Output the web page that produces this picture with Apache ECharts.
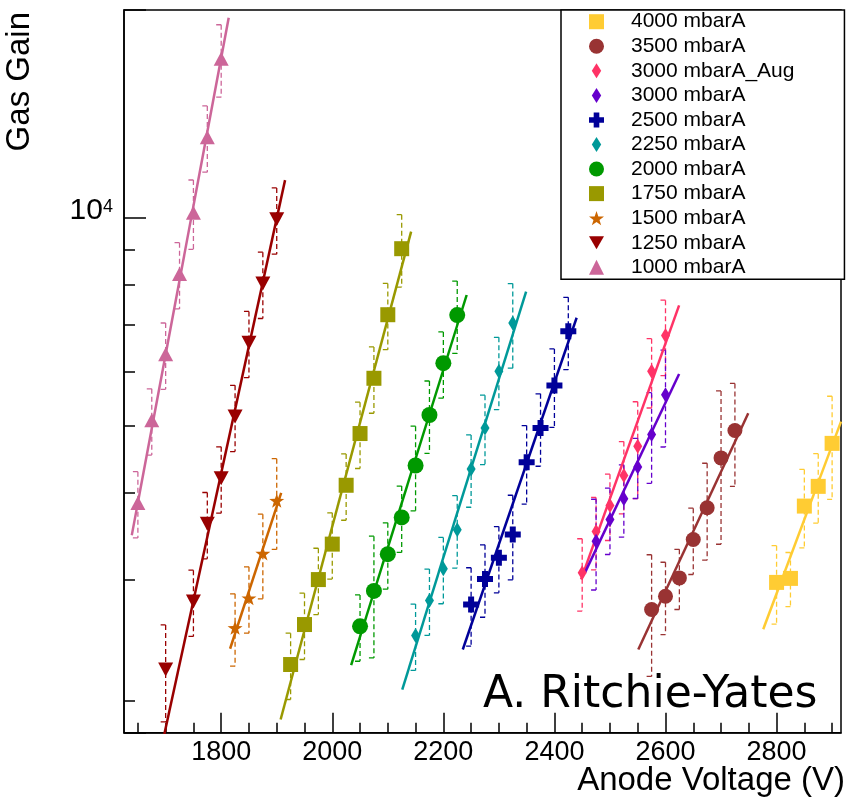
<!DOCTYPE html>
<html><head><meta charset="utf-8">
<script src="https://cdn.jsdelivr.net/npm/echarts@6/dist/echarts.min.js"></script>
<style>html,body{margin:0;padding:0;background:#fff}#c{width:846px;height:802px}</style>
</head><body><div id="c"></div>
<script>
const FONT = '"Liberation Sans", Arial, Helvetica, sans-serif';
const X_MIN = 1625, X_MAX = 2916;
const Y_MIN = 1800, Y_MAX = 20000, Y_MAJOR = 10000;
const X_LABELS = [1800, 2000, 2200, 2400, 2600, 2800];
const X_MINOR_TICKS = [1650,1700,1750,1850,1900,1950,2050,2100,2150,2250,2300,2350,2450,2500,2550,2650,2700,2750,2850,2900];
const Y_MINOR_TICKS = [2000,3000,4000,5000,6000,7000,8000,9000];

const NAMES = ['4000 mbarA','3500 mbarA','3000 mbarA_Aug','3000 mbarA','2500 mbarA','2250 mbarA','2000 mbarA','1750 mbarA','1500 mbarA','1250 mbarA','1000 mbarA'];

// voltage (V), gain, error (%), fit line end points
const V_4000 = [2800,2825,2850,2875,2900];
const G_4000 = [2970,3010,3830,4090,4720];
const E_4000 = [13,9,13,11.5,17];
const FIT_4000 = [[2776,2541],[2916,5074]];

const V_3500 = [2575,2600,2625,2650,2675,2700,2725];
const G_3500 = [2714,2836,3015,3426,3808,4497,4926];
const E_3500 = [20,12,10,11,16,25,17];
const FIT_3500 = [[2551,2375],[2749,5218]];

const V_3000A = [2450,2475,2500,2525,2550,2575,2600];
const G_3000A = [3067,3520,3837,4240,4674,6000,6760];
const E_3000A = [12,12,11,12,16,11.5,12.5];
const FIT_3000A = [[2448,3000],[2624.5,7477]];

const V_3000 = [2475,2500,2525,2550,2575,2600];
const G_3000 = [3407,3662,3924,4364,4860,5551];
const E_3000 = [15,11,12,10,15,16];
const FIT_3000 = [[2455,3068],[2624.5,5948]];

const V_2500 = [2250,2275,2300,2325,2350,2375,2400,2425];
const G_2500 = [2760,3005,3223,3483,4432,4970,5722,6856];
const E_2500 = [13,12,11,14,13,12,13,12];
const FIT_2500 = [[2235,2375],[2440,7173]];

const V_2250 = [2150,2175,2200,2225,2250,2275,2300,2325];
const G_2250 = [2489,2797,3108,3540,4335,4970,6000,7050];
const E_2250 = [11,11,11,12,12,11.5,12,14];
const FIT_2250 = [[2126,2077],[2349,7827]];

const V_2000 = [2050,2075,2100,2125,2150,2175,2200,2225];
const G_2000 = [2566,2887,3263,3688,4384,5188,6165,7238];
const E_2000 = [11,20,11,11,14,12,11,12];
const FIT_2000 = [[2034,2255],[2242,7738]];

const V_1750 = [1925,1950,1975,2000,2025,2050,2075,2100,2125];
const G_1750 = [2259,2581,2998,3374,4105,4877,5863,7246,9029];
const E_1750 = [11,11,11,11,11,11,11,11,12];
const FIT_1750 = [[1907,1881],[2142,9557]];

const V_1500 = [1825,1850,1875,1900];
const G_1500 = [2553,2818,3270,3900];
const E_1500 = [12,11,14,15];
const FIT_1500 = [[1816,2381],[1908,4003]];

const V_1250 = [1700,1750,1775,1800,1825,1850,1875,1900];
const G_1250 = [2222,2787,3610,4203,5160,6600,8040,9960];
const E_1250 = [16,11,11,11,11,11,11,11];
const FIT_1250 = [[1690,1679],[1915,11346]];

const V_1000 = [1650,1675,1700,1725,1750,1775,1800];
const G_1000 = [3870,5100,6350,8300,10180,13090,17000];
const E_1000 = [11,11,11,11,11.5,11,12];
const FIT_1000 = [[1639,3475],[1813.5,19490]];

const GROUPS = [
  [V_4000, G_4000, E_4000, FIT_4000],
  [V_3500, G_3500, E_3500, FIT_3500],
  [V_3000A, G_3000A, E_3000A, FIT_3000A],
  [V_3000, G_3000, E_3000, FIT_3000],
  [V_2500, G_2500, E_2500, FIT_2500],
  [V_2250, G_2250, E_2250, FIT_2250],
  [V_2000, G_2000, E_2000, FIT_2000],
  [V_1750, G_1750, E_1750, FIT_1750],
  [V_1500, G_1500, E_1500, FIT_1500],
  [V_1250, G_1250, E_1250, FIT_1250],
  [V_1000, G_1000, E_1000, FIT_1000]
];

const SYM_INV_TRI = 'path://M0,0L16,0L8,14Z';
const SYM_DIAMOND = 'path://M5,0L10,8L5,16L0,8Z';
const SYM_CROSS = 'path://M5,0H11V5H16V11H11V16H5V11H0V5H5Z';
const SYM_STAR = 'path://M10,0L12.35,6.76L19.51,6.91L13.8,11.24L15.88,18.09L10,14L4.12,18.09L6.2,11.24L0.49,6.91L7.65,6.76Z';

const STYLES = [
  {color:'#ffcc33', symbol:'rect', size:15},
  {color:'#993333', symbol:'circle', size:15},
  {color:'#ff3366', symbol:SYM_DIAMOND, size:[9,15]},
  {color:'#6600cc', symbol:SYM_DIAMOND, size:[9,15]},
  {color:'#000099', symbol:SYM_CROSS, size:16},
  {color:'#009999', symbol:SYM_DIAMOND, size:[9,15]},
  {color:'#009900', symbol:'circle', size:16},
  {color:'#999900', symbol:'rect', size:15},
  {color:'#cc6600', symbol:SYM_STAR, size:[15,14]},
  {color:'#990000', symbol:SYM_INV_TRI, size:[15,14]},
  {color:'#cc6699', symbol:'triangle', size:[15,14]}
];

const series = [];
GROUPS.forEach(function (grp, i) {
  const V = grp[0], G = grp[1], E = grp[2], FIT = grp[3];
  const st = STYLES[i];
  series.push({
    type: 'custom', name: NAMES[i] + ' err', silent: true, z: 2, clip: true,
    data: V.map(function (v, k) { return [v, G[k], G[k] * (1 - E[k] / 100), G[k] * (1 + E[k] / 100)]; }),
    encode: {x: 0, y: [1, 2, 3]},
    renderItem: function (params, api) {
      const top = api.coord([api.value(0), api.value(3)]);
      const bot = api.coord([api.value(0), api.value(2)]);
      const ls = {stroke: st.color, lineWidth: 1.3};
      return {type: 'group', children: [
        {type: 'line', shape: {x1: top[0], y1: top[1], x2: bot[0], y2: bot[1]}, style: {stroke: st.color, lineWidth: 1.3, lineDash: [5, 3]}},
        {type: 'line', shape: {x1: top[0] - 5, y1: top[1], x2: top[0], y2: top[1]}, style: ls},
        {type: 'line', shape: {x1: bot[0] - 5, y1: bot[1], x2: bot[0], y2: bot[1]}, style: ls}
      ]};
    }
  });
  series.push({
    type: 'line', name: NAMES[i] + ' fit', data: FIT, symbol: 'none', silent: true, z: 3, clip: true,
    lineStyle: {color: st.color, width: 2.5}, itemStyle: {color: st.color}, emphasis: {disabled: true}
  });
  series.push({
    type: 'scatter', name: NAMES[i], data: V.map(function (v, k) { return [v, G[k]]; }),
    symbol: st.symbol, symbolSize: st.size, z: 4,
    itemStyle: {color: st.color, opacity: 1}, emphasis: {disabled: true}
  });
});

const tickLine = {color: '#000', width: 1.5};
const option = {
  animation: false,
  backgroundColor: '#fff',
  textStyle: {fontFamily: FONT},
  grid: {left: 124, right: 5, top: 10, bottom: 69.3, show: true, borderColor: '#000', borderWidth: 1.5, containLabel: false, outerBoundsMode: 'none'},
  legend: {
    data: NAMES, orient: 'vertical', left: 561, top: 10,
    itemWidth: 15, itemHeight: 15, itemGap: 3.56,
    padding: [1.2, 50, 1.5, 28],
    backgroundColor: '#fff', borderColor: '#000', borderWidth: 1.5,
    selectedMode: false, z: 20,
    textStyle: {fontSize: 21, color: '#000', fontFamily: FONT, padding: [0, 0, 0, 22]}
  },
  xAxis: [{
    type: 'value', min: X_MIN, max: X_MAX, position: 'bottom',
    axisLine: {show: true, lineStyle: tickLine},
    axisTick: {show: true, inside: true, length: 20, customValues: X_LABELS, lineStyle: tickLine},
    axisLabel: {show: true, customValues: X_LABELS, margin: 6.5, fontSize: 27, color: '#000', fontFamily: FONT,
      formatter: function (v) { return String(v); }},
    splitLine: {show: false},
    name: 'Anode Voltage (V)', nameLocation: 'end', nameGap: 4, nameMoveOverlap: false,
    nameTextStyle: {fontSize: 33, color: '#000', fontFamily: FONT, align: 'right', verticalAlign: 'top', padding: [32, 0, 0, 0]}
  }, {
    type: 'value', min: X_MIN, max: X_MAX, position: 'bottom',
    axisLine: {show: false}, axisLabel: {show: false}, splitLine: {show: false},
    axisTick: {show: true, inside: true, length: 10, customValues: X_MINOR_TICKS, lineStyle: tickLine}
  }],
  yAxis: [{
    type: 'log', logBase: 10, min: Y_MIN, max: Y_MAX, position: 'left',
    axisLine: {show: true, lineStyle: tickLine},
    axisTick: {show: true, inside: true, length: 22, lineStyle: tickLine},
    minorTick: {show: false}, splitLine: {show: false},
    axisLabel: {
      margin: 11, padding: [0, 0, 15, 0], fontSize: 30, color: '#000',
      formatter: function (v) { return Math.abs(v - Y_MAJOR) < 1 ? '{b|10}{s|4}' : ''; },
      rich: {
        b: {fontSize: 30, lineHeight: 30, fontFamily: FONT, color: '#000', verticalAlign: 'bottom'},
        s: {fontSize: 18, lineHeight: 18, fontFamily: FONT, color: '#000', verticalAlign: 'top', padding: [2, 0, 0, 0]}
      }
    },
    name: 'Gas Gain', nameLocation: 'end', nameRotate: 90, nameGap: -2, nameMoveOverlap: false,
    nameTextStyle: {fontSize: 33, color: '#000', fontFamily: FONT, align: 'right', verticalAlign: 'bottom', padding: [0, 0, 88, 0]}
  }, {
    type: 'value', min: Math.log10(Y_MIN), max: Math.log10(Y_MAX), position: 'left',
    axisLine: {show: false}, axisLabel: {show: false}, splitLine: {show: false},
    axisTick: {show: true, inside: true, length: 11, customValues: Y_MINOR_TICKS.map(Math.log10), lineStyle: tickLine}
  }],
  graphic: [{
    type: 'text', x: 483, y: 695.5, z: 30,
    style: {text: 'A. Ritchie-Yates', fontSize: 44, fontFamily: '"DejaVu Sans"', fill: '#000', align: 'left', verticalAlign: 'middle'}
  }],
  series: series
};
const chart = echarts.init(document.getElementById('c'), null, {renderer: 'canvas', width: 846, height: 802});
chart.setOption(option);
</script>
</body></html>
